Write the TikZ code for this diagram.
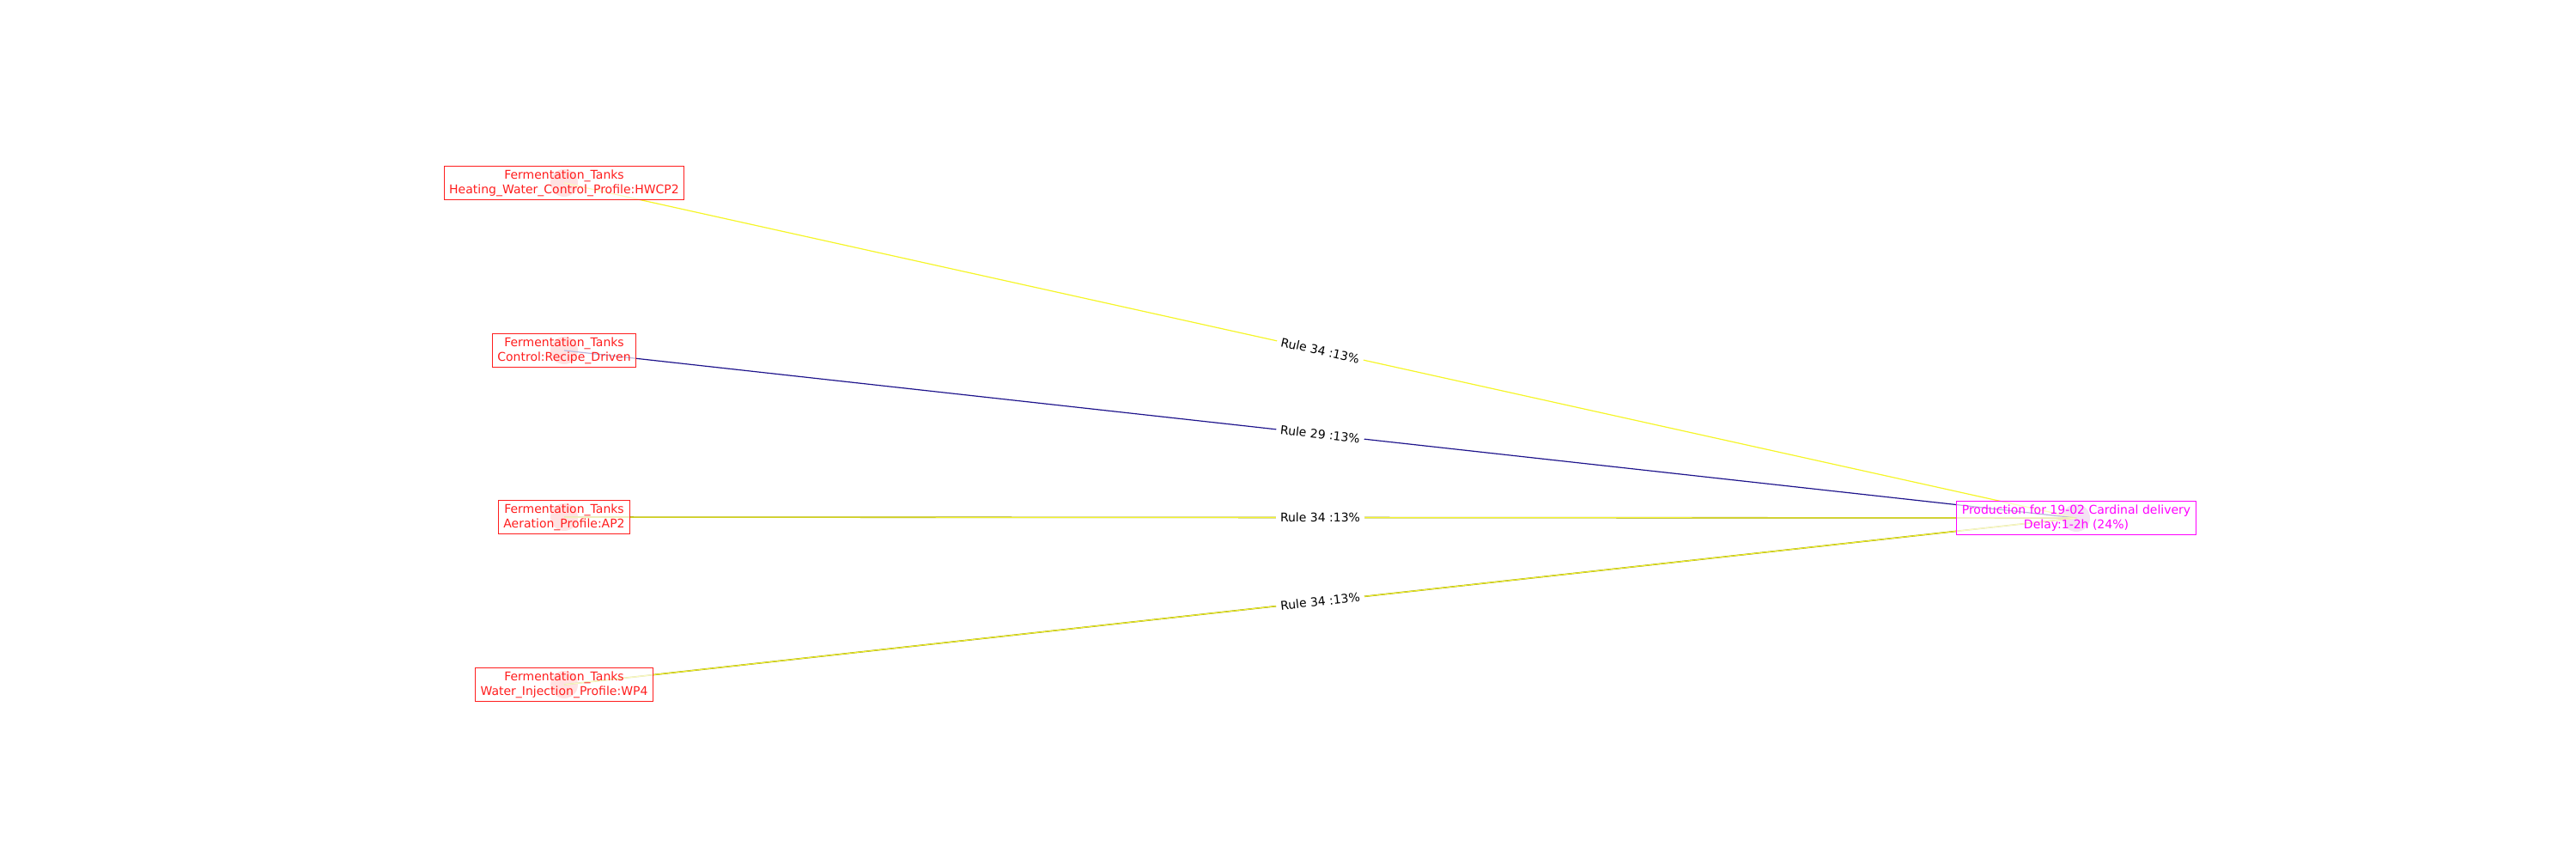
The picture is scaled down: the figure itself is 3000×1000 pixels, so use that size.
\documentclass[tikz,border=0pt]{standalone}
\usepackage{fontspec}
\setmainfont{DejaVu Sans}
\pgfdeclarelayer{background}
\pgfsetlayers{background,main}
\definecolor{edgeyellow}{RGB}{245,245,40}
\definecolor{edgenavy}{RGB}{30,20,140}
\definecolor{edgeolive}{RGB}{150,150,20}
\definecolor{dotred}{RGB}{255,160,160}
\definecolor{dotmag}{RGB}{220,160,220}
\definecolor{nodered}{RGB}{255,30,30}
\definecolor{nodemag}{RGB}{255,0,255}
\begin{document}
\begin{tikzpicture}[x=1pt,y=-1pt,
  every node/.style={font=\fontsize{14}{16.7}\selectfont},
  srcbox/.style={draw=nodered, line width=1pt, fill=white, fill opacity=0.7, text opacity=1, text=nodered, align=center, inner xsep=6pt, inner ysep=4pt},
  tgtbox/.style={draw=nodemag, line width=1pt, fill=white, fill opacity=0.7, text opacity=1, text=nodemag, align=center, inner xsep=6pt, inner ysep=4pt},
  rulelabel/.style={midway, sloped, fill=white, text=black, inner xsep=5pt, inner ysep=1pt},
  edgeline/.style={line width=1.2pt}
]
\useasboundingbox (0,0) rectangle (3000,1000);

\node[srcbox] (hwcp) at (657,213) {Fermentation\_Tanks\\Heating\_Water\_Control\_Profile:HWCP2};
\node[srcbox] (recipe) at (657,408) {Fermentation\_Tanks\\Control:Recipe\_Driven};
\node[srcbox] (ap) at (657,602) {Fermentation\_Tanks\\Aeration\_Profile:AP2};
\node[srcbox] (wp) at (657,797) {Fermentation\_Tanks\\Water\_Injection\_Profile:WP4};
\node[tgtbox] (tgt) at (2418,603) {Production for 19-02 Cardinal delivery\\Delay:1-2h (24\%)};

\begin{pgfonlayer}{background}
  \fill[dotred] (hwcp.center) circle (16);
  \fill[dotred] (recipe.center) circle (16);
  \fill[dotred] (ap.center) circle (16);
  \fill[dotred] (wp.center) circle (16);
  \fill[dotmag] (tgt.center) circle (16);

  \draw[edgeline, edgeyellow] (hwcp.center) -- node[rulelabel] {Rule 34 :13\%} (tgt.center);
  \draw[edgeline, edgenavy] (recipe.center) -- node[rulelabel] {Rule 29 :13\%} (tgt.center);
  \draw[edgeline, edgeolive, line width=1.6pt] (ap.center) -- (tgt.center);
  \draw[edgeline, edgeyellow, line width=1pt] (ap.center) -- node[rulelabel] {Rule 34 :13\%} (tgt.center);
  \draw[edgeline, edgeolive, line width=1.6pt] (wp.center) -- (tgt.center);
  \draw[edgeline, edgeyellow, line width=1pt] (wp.center) -- node[rulelabel] {Rule 34 :13\%} (tgt.center);
\end{pgfonlayer}
\end{tikzpicture}
\end{document}
